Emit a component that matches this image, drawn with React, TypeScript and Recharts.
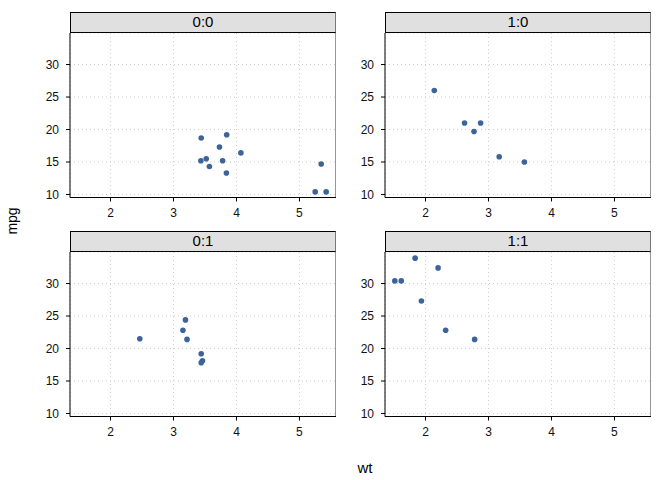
import { ScatterChart, Scatter, XAxis, YAxis, CartesianGrid, ReferenceLine } from "recharts";

// wt / mpg per facet (am:vs)
const wt00 = [3.44, 3.57, 4.07, 3.73, 3.78, 5.25, 5.424, 5.345, 3.52, 3.435, 3.84, 3.845];
const mpg00 = [18.7, 14.3, 16.4, 17.3, 15.2, 10.4, 10.4, 14.7, 15.5, 15.2, 13.3, 19.2];

const wt10 = [2.62, 2.875, 2.14, 3.17, 2.77, 3.57];
const mpg10 = [21.0, 21.0, 26.0, 15.8, 19.7, 15.0];

const wt01 = [3.215, 3.46, 3.19, 3.15, 3.44, 3.44, 2.465];
const mpg01 = [21.4, 18.1, 24.4, 22.8, 19.2, 17.8, 21.5];

const wt11 = [2.32, 2.2, 1.615, 1.835, 1.935, 1.513, 2.78];
const mpg11 = [22.8, 32.4, 30.4, 33.9, 27.3, 30.4, 21.4];

const xTicks = [2, 3, 4, 5];
const yTicks = [10, 15, 20, 25, 30];

const X_DOMAIN: [number, number] = [1.357, 5.58];
const Y_DOMAIN: [number, number] = [9.54, 34.85];

const FONT = '"Liberation Sans", Arial, Helvetica, sans-serif';
const POINT = "#3d6499";

const PLOT_W = 266;
const PLOT_H = 164.5;
const STRIP_H = 20.5;
const AXIS_W = 50;
const AXIS_H = 30;

const toRows = (xs: number[], ys: number[]) => xs.map((x, i) => ({ wt: x, mpg: ys[i] }));

function Dot(props: any) {
  const { cx, cy } = props;
  if (cx == null || cy == null) return null;
  return <circle cx={cx} cy={cy} r={2.8} fill={POINT} />;
}

interface PanelProps {
  label: string;
  wt: number[];
  mpg: number[];
  left: number;
  stripTop: number;
}

function Panel({ label, wt, mpg, left, stripTop }: PanelProps) {
  const plotTop = stripTop + STRIP_H;
  const data = toRows(wt, mpg);
  const tick = { fontSize: 12, fill: "#111", fontFamily: FONT };
  return (
    <>
      <div
        style={{
          position: "absolute",
          left,
          top: stripTop,
          width: PLOT_W,
          height: STRIP_H,
          boxSizing: "border-box",
          background: "#e0e0e0",
          borderTop: "1px solid #000",
          borderLeft: "1px solid #000",
          borderBottom: "1px solid #000",
          borderRight: "1.5px solid #777",
          fontFamily: FONT,
          fontSize: 15,
          color: "#000",
          textAlign: "center",
          lineHeight: `${STRIP_H - 2}px`,
        }}
      >
        {label}
      </div>
      <div style={{ position: "absolute", left: left - AXIS_W, top: plotTop }}>
        <ScatterChart
          width={AXIS_W + PLOT_W}
          height={PLOT_H + AXIS_H}
          margin={{ top: 0, right: 0, bottom: 0, left: 0 }}
        >
          <CartesianGrid stroke="#cfcfcf" strokeDasharray="1 3" />
          <XAxis
            type="number"
            dataKey="wt"
            domain={X_DOMAIN}
            ticks={xTicks}
            allowDataOverflow
            height={AXIS_H}
            tickSize={4}
            tickMargin={7}
            tick={tick}
            axisLine={{ stroke: "#000" }}
            tickLine={{ stroke: "#000" }}
          />
          <YAxis
            type="number"
            dataKey="mpg"
            domain={Y_DOMAIN}
            ticks={yTicks}
            allowDataOverflow
            width={AXIS_W}
            tickSize={4}
            tickMargin={7}
            tick={tick}
            axisLine={{ stroke: "#000" }}
            tickLine={{ stroke: "#000" }}
          />
          <ReferenceLine x={X_DOMAIN[1]} stroke="#777" strokeWidth={1.5} />
          <Scatter data={data} shape={<Dot />} isAnimationActive={false} />
        </ScatterChart>
      </div>
    </>
  );
}

export default function App() {
  return (
    <div
      style={{
        position: "absolute",
        left: 0,
        top: 0,
        width: 672,
        height: 480,
        background: "#fff",
        fontFamily: FONT,
      }}
    >
      <Panel label="0:0" wt={wt00} mpg={mpg00} left={70} stripTop={12} />
      <Panel label="1:0" wt={wt10} mpg={mpg10} left={385} stripTop={12} />
      <Panel label="0:1" wt={wt01} mpg={mpg01} left={70} stripTop={231} />
      <Panel label="1:1" wt={wt11} mpg={mpg11} left={385} stripTop={231} />
      <div
        style={{
          position: "absolute",
          left: 12,
          top: 221,
          transform: "translate(-50%, -50%) rotate(-90deg)",
          fontSize: 14,
          color: "#000",
          whiteSpace: "nowrap",
        }}
      >
        mpg
      </div>
      <div
        style={{
          position: "absolute",
          left: 365,
          top: 467,
          transform: "translate(-50%, -50%)",
          fontSize: 15,
          color: "#000",
        }}
      >
        wt
      </div>
    </div>
  );
}
